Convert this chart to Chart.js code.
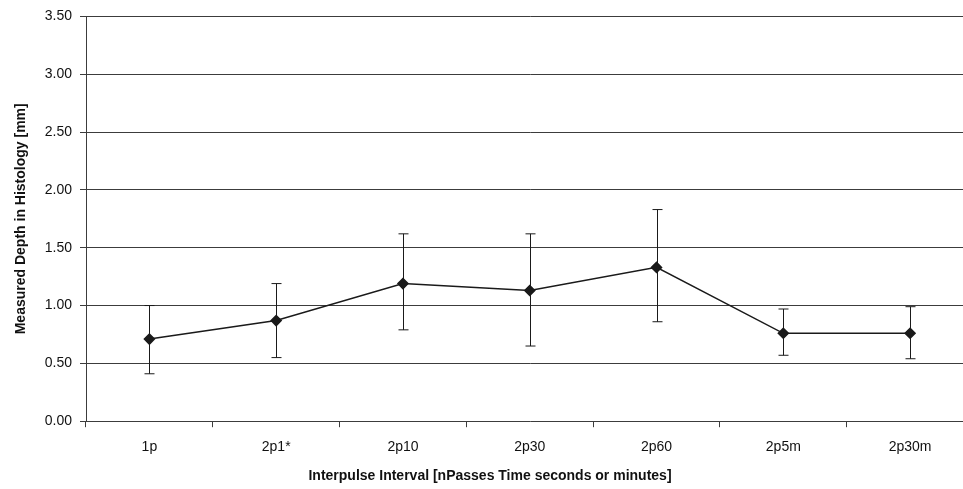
<!DOCTYPE html>
<html>
<head>
<meta charset="utf-8">
<script src="https://cdn.jsdelivr.net/npm/chart.js@4.4.1/dist/chart.umd.min.js"></script>
<style>
    html, body { margin: 0; padding: 0; background: #fff; overflow: hidden; }
    #wrap { width: 980px; height: 489px; }
</style>
</head>
<body>
<div id="wrap"><canvas id="depthChart" width="980" height="489"></canvas></div>
<script>
// Chart data
const categories = ['1p', '2p1*', '2p10', '2p30', '2p60', '2p5m', '2p30m'];
const meanDepth = [0.71, 0.87, 1.19, 1.13, 1.33, 0.76, 0.76];
const upperError = [1.00, 1.19, 1.62, 1.62, 1.83, 0.97, 0.99];
const lowerError = [0.41, 0.55, 0.79, 0.65, 0.86, 0.57, 0.54];
const yTicks = [0, 0.5, 1, 1.5, 2, 2.5, 3, 3.5];

const inkColor = '#1a1a1a';
const gridColor = '#3c3c3c';
const fontFamily = 'Liberation Sans, Arial, sans-serif';

// Draws the vertical error bars with caps
const errorBarPlugin = {
    id: 'errorBars',
    beforeDatasetsDraw(chart) {
        const ctx = chart.ctx;
        const x = chart.scales.x;
        const y = chart.scales.y;
        const cap = 5;
        ctx.save();
        ctx.strokeStyle = inkColor;
        ctx.lineWidth = 1;
        categories.forEach((c, i) => {
            const px = Math.round(x.getPixelForValue(i)) + 0.5;
            const top = y.getPixelForValue(upperError[i]);
            const bot = y.getPixelForValue(lowerError[i]);
            ctx.beginPath();
            ctx.moveTo(px, top);
            ctx.lineTo(px, bot);
            ctx.moveTo(px - cap, top);
            ctx.lineTo(px + cap, top);
            ctx.moveTo(px - cap, bot);
            ctx.lineTo(px + cap, bot);
            ctx.stroke();
        });
        ctx.restore();
    }
};

new Chart(document.getElementById('depthChart'), {
    type: 'line',
    data: {
        labels: categories,
        datasets: [{
            label: 'Measured Depth',
            data: meanDepth,
            borderColor: inkColor,
            borderWidth: 1.5,
            pointStyle: 'rectRot',
            pointRadius: 5,
            pointBackgroundColor: inkColor,
            pointBorderColor: inkColor,
            tension: 0
        }]
    },
    options: {
        responsive: false,
        animation: false,
        layout: { padding: { top: 16, right: 0, bottom: 0, left: 0 } },
        plugins: {
            legend: { display: false },
            tooltip: { enabled: false },
            title: {
                display: true,
                position: 'bottom',
                text: 'Interpulse Interval [nPasses Time seconds or minutes]',
                color: '#111',
                font: { family: fontFamily, size: 14, weight: 'bold' },
                padding: { top: 5, bottom: 4 }
            }
        },
        scales: {
            x: {
                type: 'category',
                offset: true,
                afterFit: s => { s.height = 42; },
                border: { display: false },
                grid: {
                    offset: true,
                    drawOnChartArea: false,
                    drawTicks: true,
                    tickLength: 6,
                    color: gridColor
                },
                ticks: {
                    color: '#111',
                    padding: 12,
                    maxRotation: 0,
                    font: { family: fontFamily, size: 14 }
                }
            },
            y: {
                min: 0,
                max: 3.5,
                afterFit: s => { s.width = 86; },
                afterBuildTicks: s => { s.ticks = yTicks.map(v => ({ value: v })); },
                border: { display: true, color: gridColor, width: 1 },
                grid: {
                    color: gridColor,
                    lineWidth: 1,
                    tickLength: 6
                },
                ticks: {
                    color: '#111',
                    padding: 8,
                    callback: v => Number(v).toFixed(2),
                    font: { family: fontFamily, size: 14 }
                },
                title: {
                    display: true,
                    text: 'Measured Depth in Histology [mm]',
                    color: '#111',
                    font: { family: fontFamily, size: 14, weight: 'bold' },
                    padding: { top: 13, bottom: 0 }
                }
            }
        }
    },
    plugins: [errorBarPlugin]
});
</script>
</body>
</html>
